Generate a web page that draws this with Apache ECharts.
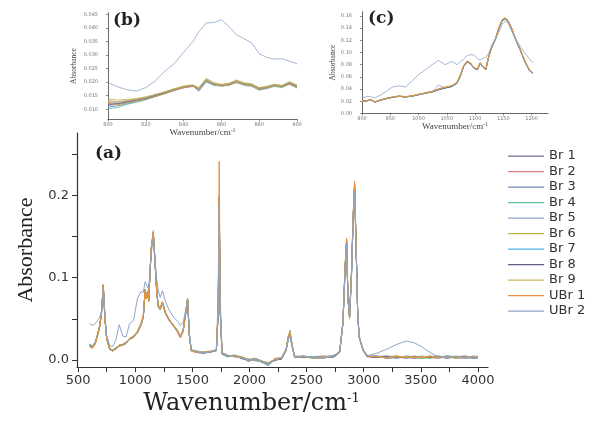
<!DOCTYPE html>
<html><head><meta charset="utf-8">
<script src="https://cdn.jsdelivr.net/npm/echarts@6/dist/echarts.min.js"></script>
<style>html,body{margin:0;padding:0;background:#fff}#c{width:603px;height:421px}</style>
</head><body><div id="c"></div>
<script>
// ---------- names / colours ----------
const seriesNames = ['Br 1','Br 2','Br 3','Br 4','Br 5','Br 6','Br 7','Br 8','Br 9','UBr 1','UBr 2'];
const seriesColors = ['#6f6f99','#d98080','#6f8cb0','#5fbfa8','#8fa6cc','#b5b84a','#4fb3e0','#6a5a8a','#c9b860','#e8913a','#8ea6c8'];

// ---------- tick values ----------
const mainXLabels = [500,1000,1500,2000,2500,3000,3500,4000];
const mainXTicks = [500,750,1000,1250,1500,1750,2000,2250,2500,2750,3000,3250,3500,3750,4000];
const mainYLabels = [0,0.1,0.2];
const mainYTicks = [0,0.05,0.1,0.15,0.2,0.25];
const bXLabels = [800,820,840,860,880,900];
const bYLabels = [0.010,0.015,0.020,0.025,0.030,0.035,0.040,0.045];
const cXLabels = [900,950,1000,1050,1100,1150,1200];
const cYLabels = [0,0.02,0.04,0.06,0.08,0.10,0.12,0.14,0.16];

// ---------- main panel (a) ----------
const wnMain = [600,625,650,670,690,705,720,735,750,775,
 800,830,860,890,920,950,985,1020,1050,1070,
 1087,1098,1109,1118,1126,1140,1158,1172,1187,1200,
 1218,1238,1262,1295,1335,1370,1395,1420,1440,1458,
 1474,1490,1540,1600,1660,1710,1726,1735,1744,1760,
 1810,1870,1930,1990,2050,2110,2165,2220,2280,2320,
 2340,2355,2372,2395,2470,2560,2650,2740,2790,2818,
 2838,2850,2862,2876,2893,2908,2920,2934,2947,2960,
 2975,2995,3030,3110,3200,3290,3370,3440,3510,3580,
 3650,3730,3810,3890,3960,4000];

const mainBr1 = [0.017,0.015,0.020,0.031,0.041,0.057,0.089,0.049,0.025,0.013,
 0.011,0.013,0.017,0.018,0.020,0.025,0.028,0.033,0.042,0.051,
 0.084,0.074,0.082,0.071,0.096,0.134,0.153,0.121,0.085,0.065,
 0.061,0.069,0.057,0.048,0.041,0.034,0.027,0.035,0.055,0.073,
 0.029,0.011,0.009,0.008,0.010,0.011,0.058,0.192,0.058,0.007,
 0.004,0.006,0.002,-0.001,0.002,-0.003,-0.004,0.001,0.001,0.011,
 0.025,0.030,0.017,0.003,0.005,0.002,0.003,0.004,0.009,0.044,
 0.113,0.143,0.074,0.051,0.103,0.172,0.209,0.133,0.057,0.027,
 0.029,0.011,0.004,0.005,0.002,0.003,0.004,0.002,0.004,0.003,
 0.004,0.002,0.004,0.003,0.002,0.003];
const mainBr2 = [0.018,0.016,0.021,0.030,0.043,0.059,0.091,0.051,0.026,0.014,
 0.012,0.014,0.018,0.019,0.021,0.026,0.029,0.034,0.043,0.053,
 0.086,0.076,0.084,0.073,0.098,0.136,0.155,0.123,0.087,0.066,
 0.063,0.071,0.059,0.050,0.042,0.035,0.029,0.037,0.057,0.075,
 0.031,0.012,0.010,0.010,0.011,0.012,0.061,0.198,0.061,0.009,
 0.006,0.004,0.004,0.001,0.000,-0.001,-0.006,0.002,0.003,0.013,
 0.029,0.034,0.019,0.005,0.003,0.004,0.005,0.004,0.011,0.046,
 0.116,0.146,0.076,0.053,0.106,0.177,0.214,0.137,0.059,0.029,
 0.031,0.013,0.006,0.003,0.004,0.005,0.002,0.005,0.003,0.005,
 0.002,0.005,0.003,0.002,0.004,0.003];
const mainBr3 = [0.019,0.017,0.022,0.031,0.042,0.058,0.090,0.050,0.027,0.015,
 0.012,0.015,0.018,0.019,0.022,0.026,0.028,0.035,0.044,0.052,
 0.085,0.075,0.083,0.072,0.097,0.135,0.154,0.122,0.086,0.067,
 0.062,0.070,0.058,0.049,0.042,0.036,0.028,0.036,0.056,0.074,
 0.030,0.012,0.011,0.009,0.009,0.012,0.059,0.196,0.059,0.008,
 0.005,0.005,0.002,0.001,-0.001,-0.002,-0.003,-0.001,0.002,0.012,
 0.028,0.036,0.020,0.004,0.004,0.003,0.002,0.005,0.010,0.045,
 0.114,0.144,0.075,0.052,0.104,0.174,0.211,0.135,0.058,0.028,
 0.030,0.012,0.005,0.004,0.005,0.003,0.004,0.003,0.002,0.004,
 0.005,0.003,0.004,0.005,0.003,0.002];
const mainBr4 = [0.018,0.016,0.021,0.029,0.041,0.057,0.088,0.049,0.026,0.014,
 0.011,0.014,0.017,0.018,0.021,0.025,0.027,0.034,0.043,0.051,
 0.084,0.074,0.082,0.072,0.096,0.133,0.152,0.120,0.085,0.065,
 0.061,0.069,0.058,0.049,0.041,0.035,0.028,0.035,0.055,0.072,
 0.029,0.011,0.010,0.009,0.010,0.011,0.058,0.190,0.058,0.008,
 0.004,0.005,0.003,0.000,0.002,-0.001,-0.005,0.000,0.003,0.011,
 0.026,0.031,0.018,0.004,0.003,0.004,0.003,0.006,0.010,0.044,
 0.112,0.142,0.074,0.051,0.102,0.171,0.207,0.132,0.057,0.027,
 0.029,0.012,0.005,0.003,0.004,0.002,0.005,0.004,0.003,0.002,
 0.004,0.003,0.005,0.002,0.004,0.003];
const mainBr5 = [0.017,0.016,0.020,0.030,0.042,0.058,0.089,0.050,0.026,0.013,
 0.011,0.014,0.018,0.018,0.020,0.026,0.028,0.034,0.042,0.052,
 0.085,0.075,0.083,0.072,0.097,0.134,0.154,0.121,0.086,0.066,
 0.062,0.070,0.058,0.049,0.042,0.035,0.028,0.036,0.056,0.073,
 0.030,0.012,0.010,0.009,0.010,0.012,0.060,0.200,0.060,0.008,
 0.005,0.004,0.003,-0.002,0.001,-0.003,-0.007,0.001,0.002,0.012,
 0.027,0.033,0.018,0.004,0.005,0.003,0.004,0.003,0.010,0.045,
 0.115,0.145,0.075,0.052,0.105,0.176,0.213,0.135,0.058,0.028,
 0.030,0.012,0.004,0.005,0.003,0.004,0.002,0.003,0.005,0.003,
 0.002,0.004,0.002,0.003,0.005,0.004];
const mainBr6 = [0.018,0.017,0.021,0.030,0.042,0.059,0.090,0.051,0.026,0.014,
 0.012,0.014,0.018,0.019,0.021,0.026,0.028,0.034,0.043,0.052,
 0.086,0.075,0.083,0.073,0.097,0.135,0.155,0.122,0.086,0.066,
 0.062,0.070,0.058,0.049,0.042,0.035,0.028,0.036,0.056,0.074,
 0.030,0.012,0.010,0.010,0.010,0.012,0.060,0.194,0.060,0.008,
 0.005,0.006,0.004,0.001,0.000,-0.002,-0.004,0.001,0.002,0.013,
 0.030,0.035,0.019,0.005,0.004,0.002,0.004,0.004,0.010,0.045,
 0.115,0.146,0.075,0.052,0.105,0.176,0.213,0.136,0.058,0.028,
 0.030,0.012,0.005,0.004,0.003,0.005,0.003,0.004,0.002,0.005,
 0.003,0.004,0.002,0.004,0.003,0.005];
const mainBr7 = [0.019,0.017,0.021,0.031,0.043,0.058,0.090,0.050,0.027,0.014,
 0.012,0.014,0.018,0.018,0.021,0.026,0.029,0.034,0.043,0.052,
 0.085,0.075,0.083,0.072,0.097,0.135,0.154,0.122,0.086,0.066,
 0.062,0.070,0.058,0.049,0.042,0.035,0.028,0.036,0.056,0.074,
 0.030,0.012,0.010,0.009,0.010,0.012,0.059,0.193,0.059,0.007,
 0.004,0.005,0.003,0.000,0.001,-0.002,-0.006,0.000,0.002,0.012,
 0.026,0.030,0.017,0.004,0.004,0.004,0.003,0.004,0.010,0.045,
 0.115,0.144,0.075,0.052,0.104,0.174,0.211,0.134,0.058,0.028,
 0.030,0.012,0.005,0.004,0.004,0.003,0.004,0.004,0.003,0.004,
 0.003,0.005,0.004,0.003,0.004,0.002];
const mainBr8 = [0.018,0.016,0.021,0.030,0.042,0.058,0.091,0.050,0.026,0.014,
 0.011,0.014,0.017,0.018,0.021,0.026,0.028,0.034,0.043,0.052,
 0.085,0.075,0.083,0.072,0.097,0.135,0.155,0.122,0.086,0.066,
 0.062,0.070,0.058,0.049,0.042,0.035,0.028,0.036,0.056,0.074,
 0.030,0.012,0.010,0.009,0.010,0.012,0.061,0.197,0.061,0.008,
 0.005,0.005,0.002,0.000,0.002,-0.002,-0.005,0.000,0.001,0.012,
 0.027,0.031,0.018,0.004,0.003,0.003,0.004,0.004,0.010,0.045,
 0.115,0.145,0.075,0.052,0.105,0.175,0.212,0.135,0.058,0.028,
 0.030,0.012,0.004,0.003,0.004,0.003,0.003,0.004,0.003,0.003,
 0.004,0.003,0.003,0.004,0.003,0.003];
const mainBr9 = [0.018,0.016,0.021,0.030,0.042,0.058,0.089,0.050,0.026,0.014,
 0.012,0.014,0.018,0.018,0.021,0.026,0.028,0.034,0.043,0.052,
 0.085,0.075,0.083,0.072,0.097,0.135,0.154,0.122,0.086,0.066,
 0.062,0.070,0.058,0.049,0.042,0.035,0.028,0.036,0.056,0.074,
 0.030,0.012,0.010,0.010,0.010,0.012,0.060,0.195,0.060,0.008,
 0.006,0.004,0.003,0.001,0.001,-0.001,-0.005,0.001,0.003,0.012,
 0.027,0.033,0.018,0.004,0.004,0.003,0.003,0.005,0.010,0.045,
 0.115,0.145,0.075,0.052,0.105,0.175,0.212,0.135,0.058,0.028,
 0.030,0.012,0.005,0.004,0.003,0.004,0.004,0.003,0.004,0.004,
 0.003,0.003,0.004,0.003,0.004,0.004];
const mainUBr1 = [0.016,0.014,0.019,0.029,0.040,0.058,0.092,0.050,0.025,0.013,
 0.011,0.014,0.017,0.018,0.021,0.026,0.029,0.035,0.045,0.054,
 0.086,0.076,0.084,0.073,0.098,0.137,0.157,0.123,0.086,0.066,
 0.062,0.070,0.058,0.049,0.041,0.034,0.027,0.035,0.056,0.074,
 0.029,0.011,0.009,0.009,0.010,0.013,0.080,0.241,0.075,0.008,
 0.005,0.004,0.004,-0.001,0.002,-0.002,-0.004,0.001,0.002,0.013,
 0.028,0.033,0.019,0.004,0.004,0.003,0.004,0.005,0.010,0.046,
 0.118,0.148,0.076,0.050,0.106,0.178,0.217,0.137,0.058,0.028,
 0.030,0.012,0.005,0.004,0.003,0.004,0.003,0.004,0.003,0.004,
 0.003,0.004,0.003,0.004,0.003,0.004];
const mainUBr2 = [0.044,0.042,0.044,0.048,0.052,0.060,0.086,0.052,0.030,0.018,
 0.016,0.024,0.043,0.029,0.028,0.044,0.048,0.075,0.083,0.082,
 0.095,0.096,0.088,0.091,0.100,0.130,0.150,0.122,0.099,0.085,
 0.076,0.084,0.072,0.061,0.052,0.047,0.042,0.046,0.060,0.072,
 0.032,0.013,0.010,0.009,0.010,0.012,0.055,0.188,0.058,0.009,
 0.005,0.005,0.003,0.000,0.001,-0.002,-0.005,0.000,0.002,0.012,
 0.026,0.030,0.018,0.004,0.004,0.003,0.004,0.005,0.011,0.045,
 0.112,0.142,0.074,0.052,0.102,0.170,0.205,0.133,0.058,0.028,
 0.030,0.012,0.005,0.008,0.013,0.019,0.023,0.021,0.016,0.009,
 0.004,0.003,0.004,0.003,0.004,0.003];

// ---------- inset (b) 800-900 ----------
const wnB = [800,805,810,815,820,825,830,835,840,845,848,852,856,860,864,868,872,876,880,884,888,892,896,900];
const bBr1 = [0.0125,0.0120,0.0126,0.0135,0.0138,0.0152,0.0158,0.0170,0.0180,0.0184,0.0178,0.0204,0.0195,0.0186,0.0190,0.0200,0.0194,0.0188,0.0178,0.0182,0.0186,0.0186,0.0194,0.0186];
const bBr2 = [0.0132,0.0128,0.0131,0.0138,0.0142,0.0149,0.0162,0.0175,0.0178,0.0188,0.0176,0.0210,0.0190,0.0190,0.0194,0.0205,0.0190,0.0193,0.0172,0.0178,0.0190,0.0182,0.0198,0.0180];
const bBr3 = [0.0108,0.0112,0.0120,0.0128,0.0136,0.0146,0.0158,0.0168,0.0180,0.0185,0.0172,0.0205,0.0190,0.0185,0.0190,0.0198,0.0190,0.0186,0.0174,0.0178,0.0186,0.0182,0.0194,0.0182];
const bBr4 = [0.0102,0.0106,0.0118,0.0126,0.0135,0.0148,0.0160,0.0174,0.0183,0.0188,0.0168,0.0203,0.0188,0.0186,0.0188,0.0200,0.0188,0.0184,0.0170,0.0176,0.0184,0.0180,0.0192,0.0178];
const bBr5 = [0.0120,0.0125,0.0130,0.0132,0.0142,0.0153,0.0163,0.0173,0.0184,0.0189,0.0176,0.0212,0.0194,0.0190,0.0194,0.0206,0.0194,0.0192,0.0178,0.0183,0.0190,0.0187,0.0200,0.0186];
const bBr6 = [0.0138,0.0134,0.0136,0.0140,0.0146,0.0155,0.0165,0.0176,0.0186,0.0190,0.0180,0.0214,0.0198,0.0192,0.0196,0.0208,0.0198,0.0194,0.0180,0.0185,0.0192,0.0188,0.0202,0.0190];
const bBr7 = [0.0112,0.0118,0.0124,0.0130,0.0139,0.0150,0.0159,0.0171,0.0181,0.0186,0.0166,0.0200,0.0189,0.0187,0.0191,0.0201,0.0191,0.0189,0.0173,0.0179,0.0187,0.0183,0.0197,0.0183];
const bBr8 = [0.0116,0.0120,0.0127,0.0134,0.0141,0.0151,0.0161,0.0173,0.0183,0.0187,0.0175,0.0207,0.0193,0.0189,0.0193,0.0203,0.0193,0.0191,0.0176,0.0181,0.0189,0.0185,0.0195,0.0185];
const bBr9 = [0.0128,0.0126,0.0133,0.0137,0.0144,0.0154,0.0163,0.0174,0.0183,0.0187,0.0177,0.0209,0.0193,0.0189,0.0193,0.0203,0.0193,0.0191,0.0177,0.0182,0.0189,0.0185,0.0199,0.0187];
const bUBr1 = [0.0122,0.0116,0.0123,0.0131,0.0137,0.0147,0.0157,0.0170,0.0181,0.0185,0.0171,0.0206,0.0191,0.0187,0.0189,0.0199,0.0191,0.0187,0.0174,0.0179,0.0187,0.0183,0.0193,0.0181];
const bUBr2 = [0.0198,0.0183,0.0172,0.0167,0.0180,0.0204,0.0240,0.0268,0.0310,0.0350,0.0385,0.0418,0.0420,0.0430,0.0405,0.0375,0.0360,0.0345,0.0305,0.0291,0.0285,0.0286,0.0277,0.0268];

// ---------- inset (c) 900-1200 ----------
const wnC = [900,910,915,923,932,941,953,965,977,988,1000,1012,1024,1035,1047,1059,1068,1074,1080,1086,1092,1098,1104,1109,1114,1119,1124,1130,1136,1142,1148,1153,1158,1164,1171,1180,1188,1196,1202];
const cBr1 = [0.0198,0.0210,0.0224,0.0190,0.0215,0.0238,0.0262,0.0280,0.0275,0.0282,0.0306,0.0332,0.0352,0.0386,0.0416,0.0442,0.0495,0.0612,0.0772,0.0845,0.0815,0.0740,0.0716,0.0818,0.0760,0.0716,0.0922,0.1092,0.1214,0.1392,0.1522,0.1552,0.1514,0.1404,0.1230,0.1036,0.0852,0.0706,0.0656];
const cBr2 = [0.0205,0.0215,0.0230,0.0192,0.0222,0.0244,0.0268,0.0286,0.0276,0.0289,0.0314,0.0339,0.0359,0.0396,0.0424,0.0450,0.0506,0.0628,0.0786,0.0858,0.0826,0.0750,0.0726,0.0830,0.0770,0.0726,0.0936,0.1106,0.1226,0.1406,0.1536,0.1566,0.1526,0.1416,0.1240,0.1046,0.0860,0.0716,0.0666];
const cBr3 = [0.0195,0.0208,0.0226,0.0184,0.0216,0.0236,0.0263,0.0281,0.0270,0.0283,0.0308,0.0333,0.0353,0.0388,0.0418,0.0443,0.0498,0.0616,0.0776,0.0849,0.0818,0.0743,0.0718,0.0822,0.0762,0.0718,0.0926,0.1096,0.1218,0.1398,0.1526,0.1556,0.1518,0.1408,0.1233,0.1038,0.0853,0.0708,0.0658];
const cBr4 = [0.0202,0.0214,0.0229,0.0188,0.0220,0.0242,0.0266,0.0284,0.0274,0.0287,0.0312,0.0337,0.0357,0.0392,0.0422,0.0447,0.0502,0.0622,0.0782,0.0855,0.0822,0.0748,0.0722,0.0828,0.0768,0.0722,0.0932,0.1102,0.1222,0.1402,0.1532,0.1562,0.1522,0.1412,0.1237,0.1042,0.0857,0.0712,0.0662];
const cBr5 = [0.0199,0.0211,0.0227,0.0187,0.0217,0.0239,0.0264,0.0282,0.0271,0.0284,0.0309,0.0334,0.0354,0.0470,0.0419,0.0444,0.0499,0.0618,0.0778,0.0850,0.0819,0.0744,0.0719,0.0823,0.0764,0.0719,0.0928,0.1098,0.1219,0.1399,0.1528,0.1558,0.1519,0.1409,0.1234,0.1039,0.0854,0.0709,0.0659];
const cBr6 = [0.0201,0.0213,0.0229,0.0185,0.0219,0.0241,0.0266,0.0284,0.0273,0.0286,0.0311,0.0336,0.0360,0.0398,0.0428,0.0452,0.0508,0.0625,0.0784,0.0856,0.0824,0.0749,0.0724,0.0829,0.0768,0.0724,0.0934,0.1104,0.1224,0.1404,0.1534,0.1564,0.1524,0.1414,0.1238,0.1044,0.0858,0.0714,0.0664];
const cBr7 = [0.0197,0.0209,0.0225,0.0189,0.0216,0.0237,0.0262,0.0281,0.0273,0.0283,0.0307,0.0333,0.0353,0.0388,0.0417,0.0443,0.0497,0.0615,0.0775,0.0848,0.0817,0.0742,0.0717,0.0820,0.0761,0.0717,0.0924,0.1094,0.1216,0.1396,0.1524,0.1554,0.1516,0.1406,0.1231,0.1037,0.0852,0.0707,0.0657];
const cBr8 = [0.0200,0.0212,0.0228,0.0186,0.0218,0.0240,0.0265,0.0283,0.0272,0.0285,0.0310,0.0335,0.0355,0.0390,0.0420,0.0445,0.0500,0.0620,0.0780,0.0852,0.0820,0.0745,0.0720,0.0825,0.0765,0.0720,0.0930,0.1100,0.1220,0.1400,0.1530,0.1560,0.1520,0.1410,0.1235,0.1040,0.0855,0.0710,0.0660];
const cBr9 = [0.0203,0.0214,0.0231,0.0190,0.0221,0.0243,0.0268,0.0286,0.0276,0.0288,0.0313,0.0338,0.0362,0.0400,0.0430,0.0456,0.0512,0.0630,0.0788,0.0860,0.0828,0.0752,0.0728,0.0832,0.0772,0.0728,0.0938,0.1108,0.1228,0.1408,0.1538,0.1568,0.1528,0.1418,0.1242,0.1048,0.0862,0.0718,0.0668];
const cUBr1 = [0.0204,0.0216,0.0232,0.0191,0.0223,0.0245,0.0270,0.0288,0.0278,0.0290,0.0315,0.0340,0.0365,0.0405,0.0435,0.0460,0.0515,0.0635,0.0790,0.0862,0.0830,0.0755,0.0730,0.0835,0.0775,0.0730,0.0940,0.1110,0.1230,0.1410,0.1540,0.1572,0.1530,0.1420,0.1245,0.1050,0.0865,0.0720,0.0670];
const cUBr2 = [0.0256,0.0280,0.0275,0.0256,0.0300,0.0350,0.0430,0.0455,0.0435,0.0528,0.0637,0.0718,0.0800,0.0870,0.0800,0.0854,0.0800,0.0850,0.0890,0.0950,0.0965,0.0962,0.0900,0.0880,0.0905,0.0920,0.0990,0.1130,0.1220,0.1330,0.1470,0.1510,0.1490,0.1360,0.1230,0.1100,0.0990,0.0900,0.0830];

const mainSets = [mainBr1,mainBr2,mainBr3,mainBr4,mainBr5,mainBr6,mainBr7,mainBr8,mainBr9,mainUBr1,mainUBr2];
const bSets = [bBr1,bBr2,bBr3,bBr4,bBr5,bBr6,bBr7,bBr8,bBr9,bUBr1,bUBr2];
const cSets = [cBr1,cBr2,cBr3,cBr4,cBr5,cBr6,cBr7,cBr8,cBr9,cUBr1,cUBr2];

// ---------- build ----------
function mk(name, color, xs, ys, idx, w) {
  return { name: name, type: 'line', xAxisIndex: idx, yAxisIndex: idx, symbol: 'none', silent: true,
    data: xs.map((v, i) => [v, ys[i]]), lineStyle: { color: color, width: w }, itemStyle: { color: color } };
}
const series = [];
seriesNames.forEach((n, i) => series.push(mk(n, seriesColors[i], wnMain, mainSets[i], 0, 1)));
seriesNames.forEach((n, i) => series.push(mk(n, seriesColors[i], wnB, bSets[i], 1, 0.8)));
seriesNames.forEach((n, i) => series.push(mk(n, seriesColors[i], wnC, cSets[i], 2, 0.8)));

const axisCol = '#333';
const plain = v => String(v);
const inX = (min, max, labels, name, gap) => ({
  type: 'value', gridIndex: 0, min: min, max: max,
  axisLine: { show: true, onZero: false, lineStyle: { color: '#444', width: 0.8 } },
  axisTick: { show: true, length: 2, customValues: labels, lineStyle: { color: '#444', width: 0.6 } },
  axisLabel: { customValues: labels, fontSize: 5, color: '#777', margin: 2.5, fontFamily: 'DejaVu Sans', formatter: plain },
  splitLine: { show: false },
  name: name, nameLocation: 'middle', nameGap: gap,
  nameTextStyle: { rich: { a: { fontSize: 9, fontFamily: 'Liberation Serif', color: '#444' },
                           b: { fontSize: 6, fontFamily: 'Liberation Serif', color: '#444', verticalAlign: 'top' } } }
});
const inY = (min, max, labels, dec, gap) => ({
  type: 'value', gridIndex: 0, min: min, max: max,
  axisLine: { show: true, onZero: false, lineStyle: { color: '#444', width: 0.8 } },
  axisTick: { show: true, length: 2, customValues: labels, lineStyle: { color: '#444', width: 0.6 } },
  axisLabel: { customValues: labels, fontSize: 5, color: '#777', margin: 10, fontFamily: 'DejaVu Sans',
               formatter: v => v.toFixed(dec) },
  splitLine: { show: false },
  name: 'Absorbance', nameLocation: 'middle', nameGap: gap,
  nameTextStyle: { fontSize: 7.5, fontFamily: 'Liberation Serif', color: '#444' }
});

const xb = inX(800, 900, bXLabels, '{a|Wavenumber/cm}{b|-1}', 6); xb.gridIndex = 1;
const xc = inX(900, 1229, cXLabels, '{a|Wavenumber/cm}{b|-1}', 8); xc.gridIndex = 2;
const yb = inY(0.0063, 0.0456, bYLabels, 3, 30); yb.gridIndex = 1;
const yc = inY(0, 0.167, cYLabels, 2, 25); yc.gridIndex = 2;

const option = {
  animation: false,
  backgroundColor: '#fff',
  grid: [
    { left: 77, top: 133, width: 411, height: 240 },
    { left: 108, top: 12.7, width: 189, height: 106.6 },
    { left: 362, top: 11.7, width: 186, height: 101.8 }
  ],
  legend: {
    data: seriesNames, orient: 'vertical', left: 508, top: 149.5, padding: 0,
    icon: 'rect', itemWidth: 36, itemHeight: 1.2, itemGap: 2.3, selectedMode: false,
    textStyle: { fontSize: 13, lineHeight: 13.2, color: '#333', fontFamily: 'DejaVu Sans' }
  },
  xAxis: [
    {
      type: 'value', gridIndex: 0, min: 490, max: 4088,
      axisLine: { show: true, onZero: false, lineStyle: { color: axisCol, width: 1.2 } },
      axisTick: { show: true, length: 5, customValues: mainXTicks, lineStyle: { color: axisCol, width: 1 } },
      axisLabel: { customValues: mainXLabels, fontSize: 13, color: '#333', margin: 7, fontFamily: 'DejaVu Sans', formatter: plain },
      splitLine: { show: false },
      name: '{a|Wavenumber/cm}{b|-1}', nameLocation: 'middle', nameGap: 16,
      nameTextStyle: { padding: [0, 62, 0, 0], rich: {
        a: { fontSize: 24, fontFamily: 'DejaVu Serif', color: '#222' },
        b: { fontSize: 13, fontFamily: 'DejaVu Serif', color: '#222', verticalAlign: 'top' } } }
    },
    xb, xc
  ],
  yAxis: [
    {
      type: 'value', gridIndex: 0, min: -0.0086, max: 0.2754,
      axisLine: { show: true, onZero: false, lineStyle: { color: axisCol, width: 1.2 } },
      axisTick: { show: true, length: 5, customValues: mainYTicks, lineStyle: { color: axisCol, width: 1 } },
      axisLabel: { customValues: mainYLabels, fontSize: 13, color: '#333', margin: 8, fontFamily: 'DejaVu Sans',
                   formatter: v => v.toFixed(1) },
      splitLine: { show: false },
      name: 'Absorbance', nameLocation: 'middle', nameGap: 40,
      nameTextStyle: { fontSize: 22, fontFamily: 'Liberation Serif', color: '#222' }
    },
    yb, yc
  ],
  graphic: [
    { type: 'text', left: 95, top: 145, style: { text: '(a)', font: 'bold 17px "DejaVu Serif"', fill: '#222' } },
    { type: 'text', left: 113, top: 12, style: { text: '(b)', font: 'bold 17px "DejaVu Serif"', fill: '#222' } },
    { type: 'text', left: 368, top: 10, style: { text: '(c)', font: 'bold 17px "DejaVu Serif"', fill: '#222' } }
  ],
  series: series
};
echarts.init(document.getElementById('c'), null, { renderer: 'canvas' }).setOption(option);
</script>
</body></html>
